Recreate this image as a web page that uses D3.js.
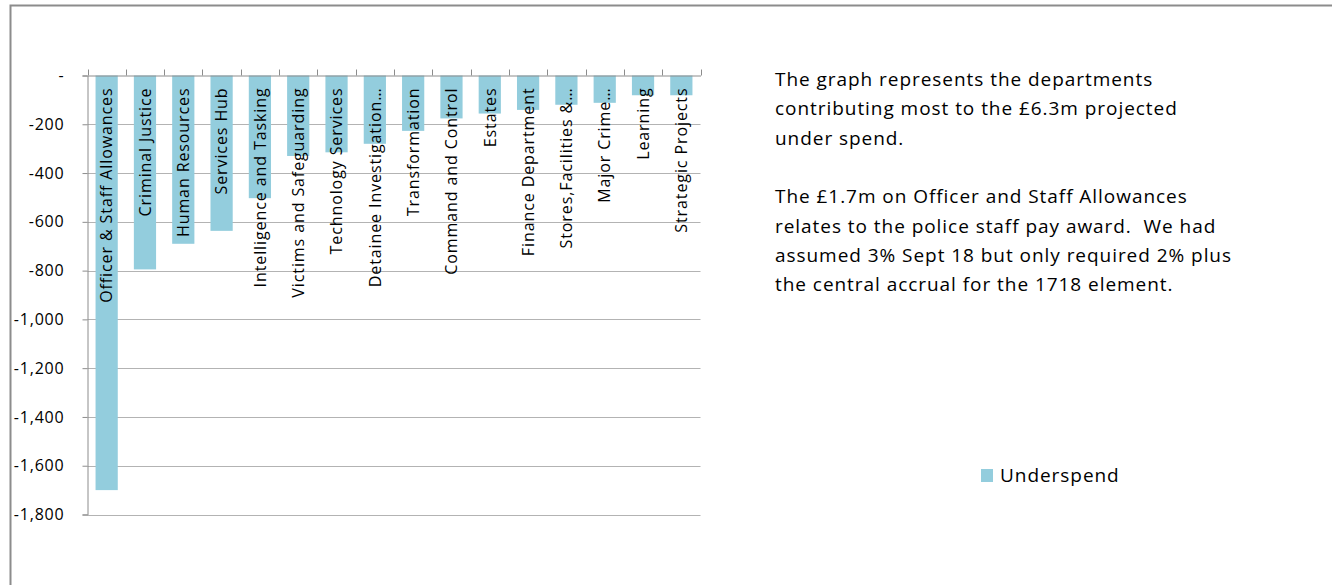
<!DOCTYPE html>
<html>
<head>
<meta charset="utf-8">
<script src="https://cdn.jsdelivr.net/npm/d3@7"></script>
<style>
  html, body { margin: 0; padding: 0; background: #fff; }
  svg { display: block; }
  text { font-family: "Open Sans", sans-serif; fill: #000; }
</style>
</head>
<body>
<svg id="chart" width="1332" height="585"></svg>
<script>
// Departments contributing to the projected under spend (£k)
const categories = [
  "Officer & Staff Allowances", "Criminal Justice", "Human Resources", "Services Hub",
  "Intelligence and Tasking", "Victims and Safeguarding", "Technology Services",
  "Detainee Investigation…", "Transformation", "Command and Control", "Estates",
  "Finance Department", "Stores,Facilities &…", "Major Crime…", "Learning", "Strategic Projects"
];
const underspend = [-1700, -795, -690, -637, -503, -330, -315, -280, -227, -176, -156, -141, -120, -112, -81, -81];
const yTicks = [0, -200, -400, -600, -800, -1000, -1200, -1400, -1600, -1800];
const seriesName = "Underspend";
const noteParagraphs = [
  ["The graph represents the departments", "contributing most to the £6.3m projected", "under spend."],
  ["The £1.7m on Officer and Staff Allowances", "relates to the police staff pay award.  We had",
   "assumed 3% Sept 18 but only required 2% plus", "the central accrual for the 1718 element."]
];

const barColor = "#93cddd";
const svg = d3.select("#chart");

// outer frame
svg.append("path")
  .attr("d", "M10.5,600 L10.5,5.5 L1340,5.5")
  .attr("fill", "none").attr("stroke", "#8c8c8c").attr("stroke-width", 2);

const plot = { left: 87.5, right: 700.5, top: 75.5, bottom: 514.5 };

const x = d3.scaleBand().domain(categories)
  .range([plot.left, plot.right]).paddingInner(0.42).paddingOuter(0.21);
const y = d3.scaleLinear().domain([-1800, 0]).range([plot.bottom, plot.top]);

const fmt = d3.formatLocale({ decimal: ".", thousands: ",", grouping: [3], currency: ["£", ""], minus: "-" }).format(",");

// gridlines
svg.append("g").selectAll("line").data(yTicks.filter(d => d !== 0)).join("line")
  .attr("x1", plot.left).attr("x2", plot.right)
  .attr("y1", d => Math.round(y(d)) + 0.5).attr("y2", d => Math.round(y(d)) + 0.5)
  .attr("stroke", "#b3b3b3").attr("stroke-width", 1);

// y axis
const yAxis = svg.append("g").attr("transform", `translate(${plot.left},0)`)
  .call(d3.axisLeft(y).tickValues(yTicks).tickSize(5).tickPadding(18)
    .tickFormat(d => d === 0 ? "-" : fmt(d)));
yAxis.select(".domain").attr("stroke", "#8c8c8c");
yAxis.selectAll(".tick line").attr("stroke", "#8c8c8c");
yAxis.selectAll(".tick text").attr("font-size", 16).attr("fill", "#1a1a1a")
  .attr("letter-spacing", 0.8)
  .style("font-family", "'Open Sans', sans-serif");

// bars
svg.append("g").selectAll("rect").data(categories).join("rect")
  .attr("x", d => x(d))
  .attr("width", x.bandwidth())
  .attr("y", (d, i) => y(0))
  .attr("height", (d, i) => y(underspend[i]) - y(0))
  .attr("fill", barColor);

// category axis along zero line, ticks pointing up
const xAxis = svg.append("g").attr("transform", `translate(0,${y(0)})`)
  .call(d3.axisTop(x).tickSize(0).tickFormat(""));
xAxis.select(".domain").attr("stroke", "#8c8c8c");
const edges = d3.range(categories.length + 1).map(i => plot.left + i * (plot.right - plot.left) / categories.length);
xAxis.selectAll("line.edge").data(edges).join("line").attr("class", "edge")
  .attr("x1", d => Math.round(d) + 0.5).attr("x2", d => Math.round(d) + 0.5)
  .attr("y1", 0).attr("y2", -6).attr("stroke", "#8c8c8c");

// category labels, rotated, hanging below the zero line
svg.append("g").selectAll("text").data(categories).join("text")
  .attr("transform", d => `translate(${x(d) + x.bandwidth() / 2},${y(0) + 12}) rotate(-90)`)
  .attr("text-anchor", "end")
  .attr("dy", "0.36em")
  .attr("font-size", 16)
  .attr("letter-spacing", 0.9)
  .text(d => d);

// explanatory note
const note = svg.append("g");
let lineY = 86;
noteParagraphs.forEach((para, pi) => {
  para.forEach(line => {
    note.append("text").attr("x", 775).attr("y", lineY).attr("font-size", 19)
      .attr("letter-spacing", 0.95)
      .attr("xml:space", "preserve").style("white-space", "pre").text(line);
    lineY += 29.3;
  });
  lineY += 29.3;
});

// legend
const legend = svg.append("g").attr("transform", "translate(981,469)");
legend.append("rect").attr("width", 12).attr("height", 13).attr("fill", barColor);
legend.append("text").attr("x", 19).attr("y", 12.5).attr("font-size", 19)
  .attr("letter-spacing", 0.95).text(seriesName);
</script>
</body>
</html>
